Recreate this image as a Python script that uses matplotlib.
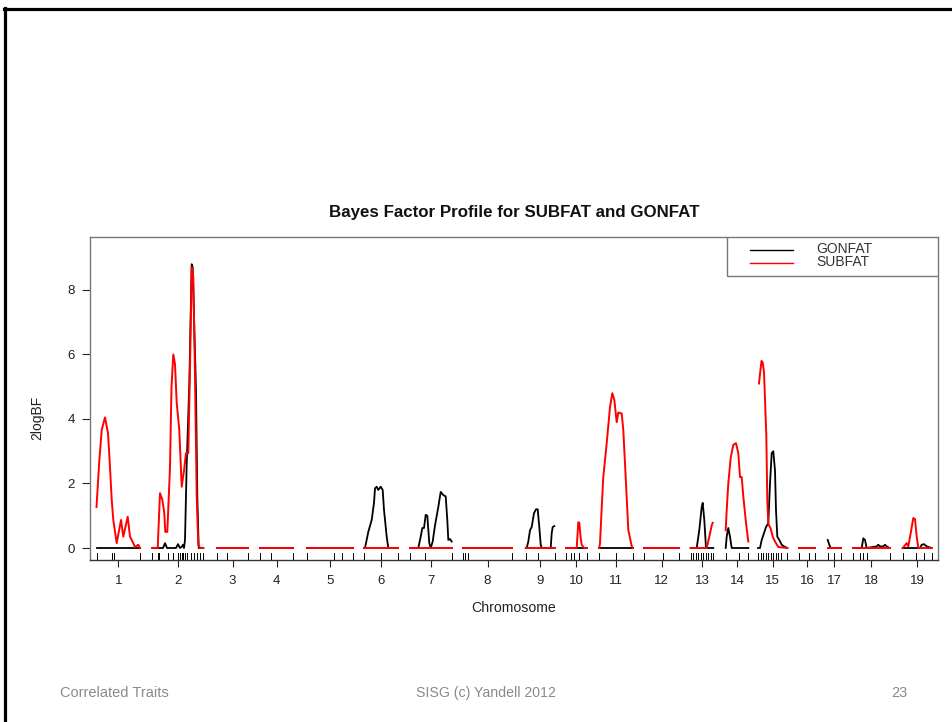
import matplotlib
matplotlib.use("Agg")
import matplotlib.pyplot as plt
from matplotlib.lines import Line2D
from matplotlib.patches import Rectangle

# ---------------- data (concatenated map positions) ----------------
chromosomes = [str(i) for i in range(1, 20)]

# marker positions per chromosome (first/last define chromosome extent)
markers = {
    1: [96.5, 112.3, 114, 140],
    2: [152.3, 157.7, 159, 168.3, 173.3, 178.3, 180, 181.7, 183.3, 185, 186.7, 191, 194, 197.3, 200, 203.3],
    3: [216.7, 226.7, 248.3],
    4: [260, 271, 293.3],
    5: [307, 334, 342, 352.7],
    6: [364, 381, 398],
    7: [410, 425, 451.7],
    8: [462.7, 465.3, 468, 512.3],
    9: [525.7, 538.3, 555],
    10: [566, 571, 574, 579, 586.7],
    11: [599.3, 616, 632.5],
    12: [644, 662.5, 679.3],
    13: [690.7, 693.2, 695.7, 698.2, 700.7, 703.2, 705.7, 708.2, 710.7, 713.3],
    14: [725.7, 739.3, 748.3],
    15: [758, 760.5, 763, 765.5, 768, 770.5, 773, 775.5, 778, 781, 787.3],
    16: [799.3, 808.5, 815],
    17: [827.7, 834, 841],
    18: [853.3, 860, 863, 866.7, 889.5],
    19: [902.7, 916, 924.3, 931.7],
}

# GONFAT profile (2logBF) per chromosome: (positions, values)
gonfat = {
    1: ([96.5, 140], [0, 0]),
    2: ([152.3, 163, 165, 167, 176, 178, 180, 182, 183, 184, 185, 186.7, 189.3, 191.7, 192.7, 194, 196, 197.3, 198.7, 203.3],
        [0, 0, 0.15, 0, 0, 0.12, 0, 0.05, 0.1, 0, 0.25, 2.6, 5.1, 8.8, 8.7, 7.2, 4.9, 1.6, 0, 0]),
    3: ([216.7, 248.3], [0, 0]),
    4: ([260, 293.3], [0, 0]),
    5: ([307, 352.7], [0, 0]),
    6: ([364, 365, 368.3, 371.7, 374, 375, 376.7, 378.3, 380.7, 382.7, 384, 386.7, 388.3, 398],
        [0, 0, 0.5, 0.87, 1.4, 1.85, 1.9, 1.8, 1.9, 1.8, 1.18, 0.35, 0, 0]),
    7: ([410, 418.3, 420.7, 422.3, 424, 425.7, 427.3, 429.3, 430.7, 432.7, 435, 438.3, 440.7, 443.3, 445.7, 447.3, 448.3, 450, 451.7],
        [0, 0, 0.35, 0.62, 0.62, 1.03, 1.0, 0.15, 0, 0.2, 0.7, 1.27, 1.74, 1.64, 1.6, 0.87, 0.25, 0.28, 0.2]),
    8: ([462.7, 512.3], [0, 0]),
    9: ([525.7, 526.7, 528.3, 530, 531.7, 534, 536, 537.7, 539.3, 540.7, 541.7, 550.7, 551.7, 552.7, 554.3],
        [0, 0, 0.2, 0.55, 0.65, 1.08, 1.2, 1.2, 0.65, 0.1, 0, 0, 0.46, 0.65, 0.68]),
    10: ([566, 586.7], [0, 0]),
    11: ([599.3, 632.5], [0, 0]),
    12: ([644, 679.3], [0, 0]),
    13: ([690.7, 696.7, 699.3, 701.7, 702.7, 704.3, 706, 713.3],
         [0, 0, 0.56, 1.27, 1.4, 0.87, 0, 0]),
    14: ([725.7, 726.7, 728.3, 730, 731.7, 748.3], [0, 0.35, 0.62, 0.35, 0, 0]),
    15: ([758, 760, 761.7, 764, 766, 768.3, 770, 771.7, 773.3, 775, 776, 777.3, 779.3, 781.7, 784, 787.3],
         [0, 0, 0.25, 0.46, 0.65, 0.77, 2.0, 2.94, 3.0, 2.4, 1.18, 0.35, 0.25, 0.1, 0.05, 0]),
    16: ([799.3, 815], [0, 0]),
    17: ([827.7, 829.3, 830.7, 841], [0.25, 0.1, 0, 0]),
    18: ([853.3, 861.7, 863.3, 865, 866.7, 876.7, 878.3, 880, 883.3, 885, 886.7, 889.5],
         [0, 0, 0.3, 0.25, 0, 0.05, 0.1, 0.05, 0.05, 0.1, 0.05, 0]),
    19: ([902.7, 920, 921.7, 924, 926.7, 931.7], [0, 0, 0.1, 0.12, 0.05, 0]),
}

# SUBFAT profile (2logBF) per chromosome
subfat = {
    1: ([96.5, 99.3, 101.7, 105, 108, 110, 111.7, 113.3, 116.7, 121, 123.3, 127.7, 130, 133.3, 135, 138.3, 140],
        [1.27, 2.7, 3.66, 4.05, 3.56, 2.5, 1.5, 0.87, 0.15, 0.87, 0.35, 0.97, 0.35, 0.15, 0.03, 0.1, 0]),
    2: ([152.3, 157.7, 160, 162.3, 164.3, 165.3, 167.3, 170, 171.5, 173.3, 175, 176.7, 179.3, 181.7, 184, 186, 188.3, 190, 191.7, 193.3, 195, 196.7, 198.3, 200, 203.3],
        [0, 0, 1.7, 1.5, 1.08, 0.5, 0.5, 2.5, 5.0, 6.0, 5.7, 4.5, 3.66, 1.9, 2.4, 2.94, 2.94, 5.6, 8.7, 8.4, 5.3, 1.6, 0.1, 0, 0]),
    3: ([216.7, 248.3], [0, 0]),
    4: ([260, 293.3], [0, 0]),
    5: ([307, 352.7], [0, 0]),
    6: ([364, 398], [0, 0]),
    7: ([410, 451.7], [0, 0]),
    8: ([462.7, 512.3], [0, 0]),
    9: ([525.7, 555], [0, 0]),
    10: ([566, 576.7, 578.3, 579.3, 580.7, 581.7, 584, 586.7], [0, 0, 0.8, 0.78, 0.3, 0.1, 0, 0]),
    11: ([599.3, 600, 601.7, 603.3, 606.7, 610, 612.3, 614.3, 616.7, 618.3, 621.7, 623.3, 626, 628.3, 631.7, 632.5],
         [0, 0.15, 1.24, 2.2, 3.25, 4.37, 4.8, 4.6, 3.9, 4.2, 4.17, 3.66, 2.0, 0.56, 0.06, 0]),
    12: ([644, 679.3], [0, 0]),
    13: ([690.7, 706.7, 709.3, 711.7, 712.7], [0, 0, 0.35, 0.7, 0.78]),
    14: ([725.7, 726.7, 728.3, 730.7, 733.3, 736, 738.3, 740, 741.7, 743.3, 746, 748.3],
         [0.55, 1.18, 2.0, 2.8, 3.2, 3.25, 2.94, 2.2, 2.2, 1.6, 0.78, 0.2]),
    15: ([759, 760, 761.5, 762.7, 764, 766.3, 767.3, 768.3, 770.7, 772.7, 775, 778.3, 787.3],
         [5.1, 5.4, 5.8, 5.75, 5.45, 3.5, 1.5, 0.75, 0.6, 0.35, 0.2, 0.03, 0]),
    16: ([799.3, 815], [0, 0]),
    17: ([827.7, 841], [0, 0]),
    18: ([853.3, 889.5], [0, 0]),
    19: ([902.7, 906.7, 908.3, 910.7, 913.3, 915, 916.7, 918.3, 931.7],
         [0, 0.15, 0.05, 0.46, 0.93, 0.9, 0.35, 0, 0]),
}

yticks = [0, 2, 4, 6, 8]
series_names = ["GONFAT", "SUBFAT"]
series_colors = ["black", "#ff0000"]

# ---------------- figure ----------------
W, H = 952, 722
fig = plt.figure(figsize=(W / 100, H / 100), dpi=100)
fig.patch.set_facecolor("white")

# slide frame
fig.add_artist(Line2D([4 / W, 1.0], [1 - 8.5 / H, 1 - 8.5 / H], color="black", lw=2.3, transform=fig.transFigure))
fig.add_artist(Line2D([4.5 / W, 4.5 / W], [0, 1 - 7.5 / H], color="black", lw=2.3, transform=fig.transFigure))

ax_l, ax_r, ax_t, ax_b = 90, 938, 237, 560
ax = fig.add_axes([ax_l / W, 1 - ax_b / H, (ax_r - ax_l) / W, (ax_b - ax_t) / H])
ax.set_xlim(90, 938)
ax.set_ylim(-0.372, 9.643)

for c in range(1, 20):
    x, y = gonfat[c]
    ax.plot(x, y, color=series_colors[0], lw=1.3, solid_joinstyle="round", zorder=3)
for c in range(1, 20):
    x, y = subfat[c]
    ax.plot(x, y, color=series_colors[1], lw=1.4, solid_joinstyle="round", zorder=4)

# rug of markers
xt = ax.get_xaxis_transform()
rug_h = 7 / (ax_b - ax_t)
for c in range(1, 20):
    for m in markers[c]:
        ax.plot([m, m], [0, rug_h], color="black", lw=0.7, transform=xt, zorder=2)

# chromosome ticks at midpoints
mids = [(markers[c][0] + markers[c][-1]) / 2 for c in range(1, 20)]
ax.set_xticks(mids)
ax.set_xticklabels(chromosomes)
ax.set_yticks(yticks)
ax.set_yticklabels([str(v) for v in yticks])
ax.tick_params(axis="x", length=5, width=0.8, pad=5.5, labelsize=9.5, colors="#222222")
ax.tick_params(axis="y", length=6, width=0.8, pad=5, labelsize=9.5, colors="#222222")

for s in ["top", "right", "left"]:
    ax.spines[s].set_color("#777777")
    ax.spines[s].set_linewidth(1.0)
ax.spines["bottom"].set_color("#333333")
ax.spines["bottom"].set_linewidth(1.0)

fam = ["Liberation Sans", "DejaVu Sans"]
for lab in ax.get_xticklabels() + ax.get_yticklabels():
    lab.set_family(fam)

fig.text(514 / W, 1 - 212 / H, "Bayes Factor Profile for SUBFAT and GONFAT", ha="center", va="center",
         fontsize=12.2, fontweight="bold", family=fam, color="#111111")
fig.text(514 / W, 1 - 608 / H, "Chromosome", ha="center", va="center", fontsize=10.2, family=fam, color="#222222")
fig.text(37 / W, 1 - 418 / H, "2logBF", ha="center", va="center", rotation=90, fontsize=10, family=fam, color="#222222")

# legend (R style box)
lx0 = (727 - ax_l) / (ax_r - ax_l)
ly0 = 1 - (276 - ax_t) / (ax_b - ax_t)
ax.add_patch(Rectangle((lx0, ly0), 1 - lx0, 1 - ly0, transform=ax.transAxes, fill=True,
                       facecolor="white", edgecolor="#777777", lw=1.0, zorder=5))
for i, (name, col) in enumerate(zip(series_names, series_colors)):
    yy = 1 - ((249.5 + 13 * i) - ax_t) / (ax_b - ax_t)
    ax.plot([(750 - ax_l) / (ax_r - ax_l), (793 - ax_l) / (ax_r - ax_l)], [yy, yy], color=col, lw=1.0,
            transform=ax.transAxes, zorder=6)
    ax.text((816 - ax_l) / (ax_r - ax_l), yy + 0.002, name, transform=ax.transAxes, va="center", ha="left",
            fontsize=10, family=fam, color="#333333", zorder=6)

# footer
ffam = ["Liberation Sans Narrow", "Liberation Sans", "DejaVu Sans"]
fcol = "#8a8a8a"
fig.text(60 / W, 1 - 693 / H, "Correlated Traits", ha="left", va="center", fontsize=10.5, family=ffam, color=fcol)
fig.text(416 / W, 1 - 693 / H, "SISG (c) Yandell 2012", ha="left", va="center", fontsize=10.2, family=ffam, color=fcol)
fig.text(908 / W, 1 - 693 / H, "23", ha="right", va="center", fontsize=10.5, family=ffam, color=fcol)

fig.savefig("out.png", dpi=100)
